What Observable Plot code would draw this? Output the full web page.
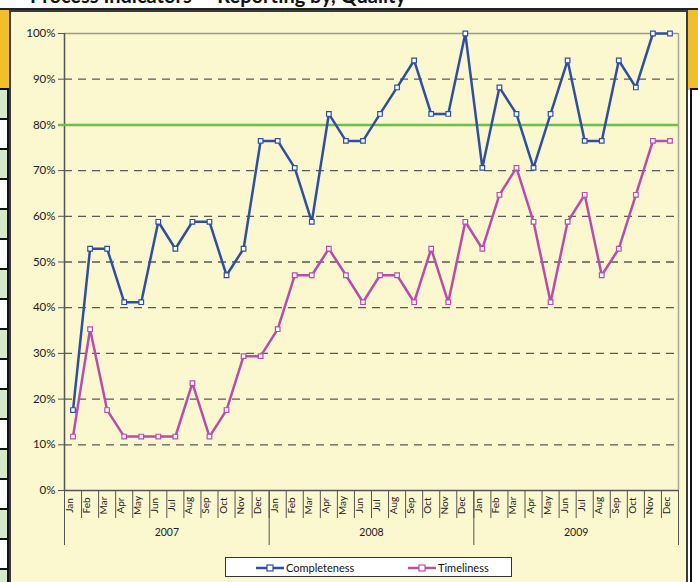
<!DOCTYPE html>
<html>
<head>
<meta charset="utf-8">
<script src="https://cdn.jsdelivr.net/npm/d3@7"></script>
<script src="https://cdn.jsdelivr.net/npm/@observablehq/plot@0.6"></script>
<style>
  html, body { margin: 0; padding: 0; background: #ffffff; }
  #page { position: relative; width: 698px; height: 582px; overflow: hidden; font-family: Lato, "Open Sans", sans-serif; }
  #title { position: absolute; left: 30px; top: -17px; font: bold 20px Lato, sans-serif; color: #111; white-space: nowrap; }
  #band { position: absolute; left: 0; top: 8px; width: 698px; height: 80px; background: #F2BF2C; border-top: 2px solid #222; }
  .cell { position: absolute; left: 0; width: 7px; border-top: 2px solid #111; border-right: 2px solid #111; }
  #rightcell { position: absolute; left: 690px; top: 88px; width: 8px; height: 520px; background: #fff; border-left: 2px solid #111; border-top: 2px solid #111; }
  #box { position: absolute; left: 9px; top: 10px; width: 679px; height: 580px; background: #FBF7CF; border: 2px solid #3a3a3a; box-sizing: border-box; }
  #chart { position: absolute; left: 0; top: 0; }
  #legend { position: absolute; left: 225px; top: 557px; width: 287px; height: 20px; background: #fff; border: 1px solid #333; box-sizing: border-box; font: 11px Lato, sans-serif; color: #111; }
  .li { position: absolute; top: 3px; display: flex; align-items: center; height: 13px; }
</style>
</head>
<body>
<div id="page">
  <div id="title">Process Indicators — Reporting by, Quality</div>
  <div id="band"></div>
  <div id="cells"></div>
  <div id="rightcell"></div>
  <div id="box"></div>
  <div id="chart"></div>
  <div id="legend"></div>
</div>
<script>
const months = ["Jan","Feb","Mar","Apr","May","Jun","Jul","Aug","Sep","Oct","Nov","Dec"];
const years = ["2007","2008","2009"];
const completeness = [
  0.176, 0.529, 0.529, 0.412, 0.412, 0.588, 0.529, 0.588, 0.588, 0.471, 0.529, 0.765,
  0.765, 0.706, 0.588, 0.824, 0.765, 0.765, 0.824, 0.882, 0.941, 0.824, 0.824, 1.000,
  0.706, 0.882, 0.824, 0.706, 0.824, 0.941, 0.765, 0.765, 0.941, 0.882, 1.000, 1.000
];
const timeliness = [
  0.118, 0.353, 0.176, 0.118, 0.118, 0.118, 0.118, 0.235, 0.118, 0.176, 0.294, 0.294,
  0.353, 0.471, 0.471, 0.529, 0.471, 0.412, 0.471, 0.471, 0.412, 0.529, 0.412, 0.588,
  0.529, 0.647, 0.706, 0.588, 0.412, 0.588, 0.647, 0.471, 0.529, 0.647, 0.765, 0.765
];
const target = 0.8;
const yTicks = [0, 0.1, 0.2, 0.3, 0.4, 0.5, 0.6, 0.7, 0.8, 0.9, 1.0];

const blue = "#2E4FA3";
const magenta = "#B84DAE";
const green = "#6CBF47";

// background spreadsheet cells on the left
const cellsDiv = document.getElementById("cells");
const cellTops = [88, 118, 148, 178, 208, 238, 268, 298, 328, 358, 388, 418, 448, 478, 508, 538, 568];
cellTops.forEach((t, i) => {
  const d = document.createElement("div");
  d.className = "cell";
  d.style.top = t + "px";
  d.style.height = "28px";
  d.style.background = i % 2 === 0 ? "#D6E8CB" : "#FFFFFF";
  cellsDiv.appendChild(d);
});

const rows = [];
years.forEach((yr, yi) => months.forEach((m, mi) => {
  const i = yi * 12 + mi;
  rows.push({i, x: i + 0.5, month: m, year: yr, completeness: completeness[i], timeliness: timeliness[i]});
}));
const compData = rows.map(d => ({x: d.x, y: d.completeness}));
const timeData = rows.map(d => ({x: d.x, y: d.timeliness}));
const yearData = years.map((y, yi) => ({x: yi * 12 + 6, label: y}));
const sepAll = d3.range(0, 37);
const sepYears = [0, 12, 24, 36];

const font = "Lato, 'Open Sans', sans-serif";

const chart = Plot.plot({
  width: 698,
  height: 555,
  marginLeft: 64,
  marginRight: 20,
  marginTop: 33,
  marginBottom: 65,
  style: {background: "transparent", fontFamily: font, fontSize: "11.5px", color: "#222", overflow: "visible"},
  x: {type: "linear", domain: [0, 36]},
  y: {domain: [0, 1]},
  marks: [
    Plot.ruleY(yTicks.filter(v => v > 0 && v < 1 && v !== 0.8), {stroke: "#5a5a5a", strokeWidth: 1.3, strokeDasharray: "8,6"}),
    Plot.ruleY([1], {stroke: "#9a9a8a", strokeWidth: 1.5}),
    Plot.ruleX([36], {stroke: "#a8a898", strokeWidth: 1.5}),
    Plot.axisY(yTicks, {tickSize: 6, tickPadding: 3, tickFormat: d3.format(".0%"), label: null, fontSize: 11.5, stroke: "#555"}),
    Plot.axisX(sepAll, {tickSize: 28, tickFormat: () => "", label: null, stroke: "#555"}),
    Plot.axisX(sepYears, {tickSize: 55, tickFormat: () => "", label: null, stroke: "#555"}),
    Plot.text(rows, {x: "x", frameAnchor: "bottom", dy: 15, rotate: -90, text: "month", textAnchor: "middle", fontSize: 10, fill: "#222"}),
    Plot.text(yearData, {x: "x", frameAnchor: "bottom", dy: 45, text: "label", fontSize: 10.5, fill: "#222"}),
    Plot.ruleX([0], {stroke: "#555", strokeWidth: 1.5}),
    Plot.ruleY([0], {stroke: "#555", strokeWidth: 1.5}),
    Plot.ruleY([target], {x1: -0.35, x2: 36, stroke: green, strokeWidth: 2.5}),
    Plot.line(compData, {x: "x", y: "y", stroke: blue, strokeWidth: 2.5}),
    Plot.line(timeData, {x: "x", y: "y", stroke: magenta, strokeWidth: 2.5}),
    Plot.dot(compData, {x: "x", y: "y", symbol: "square", r: 2.6, fill: "white", stroke: blue, strokeWidth: 1.2}),
    Plot.dot(timeData, {x: "x", y: "y", symbol: "square", r: 2.6, fill: "white", stroke: magenta, strokeWidth: 1.2})
  ]
});
document.getElementById("chart").appendChild(chart);

// legend
const legend = document.getElementById("legend");
const items = [
  {name: "Completeness", color: blue, left: 30},
  {name: "Timeliness", color: magenta, left: 182}
];
items.forEach(it => {
  const d = document.createElement("div");
  d.className = "li";
  d.style.left = it.left + "px";
  d.innerHTML = `<svg width="28" height="10" style="margin-right:2px"><line x1="0" y1="5" x2="28" y2="5" stroke="${it.color}" stroke-width="2.5"/><rect x="11" y="2" width="6" height="6" fill="white" stroke="${it.color}" stroke-width="1.2"/></svg><span>${it.name}</span>`;
  legend.appendChild(d);
});
</script>
</body>
</html>
